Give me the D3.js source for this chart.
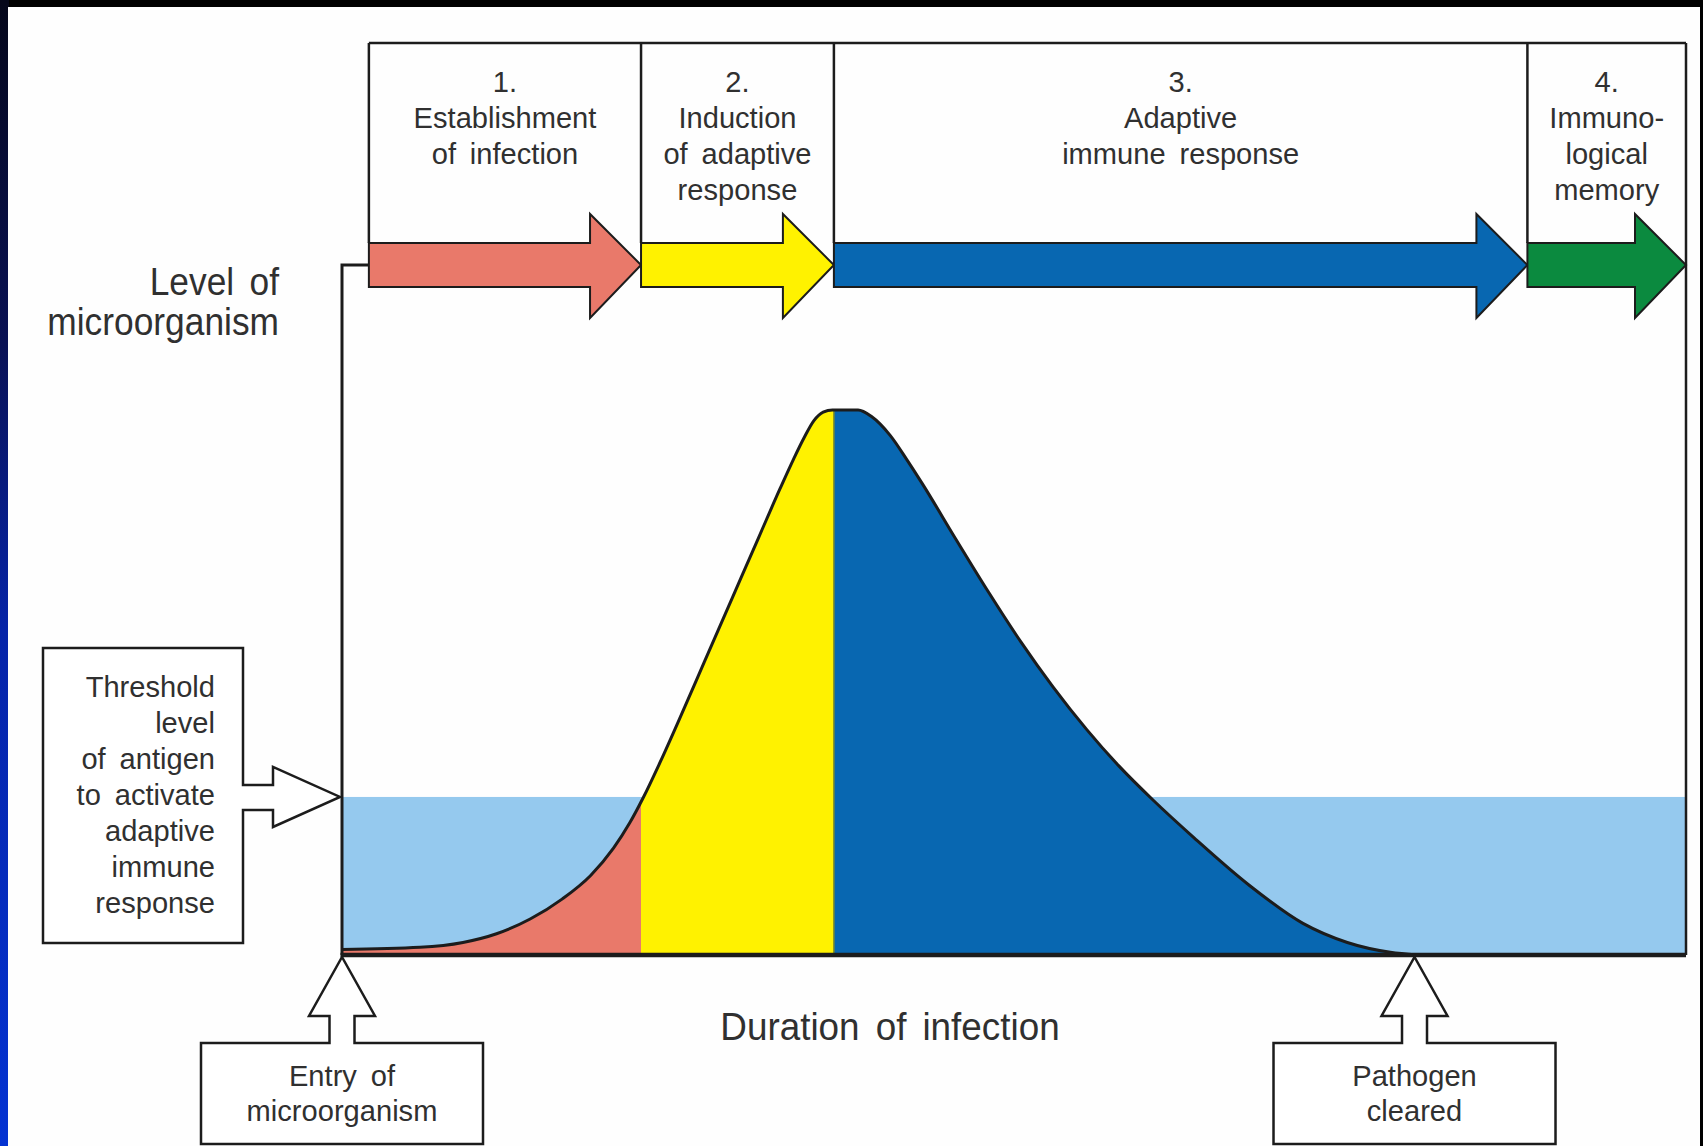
<!DOCTYPE html>
<html><head><meta charset="utf-8">
<script src="https://cdn.jsdelivr.net/npm/d3@7"></script>
<style>
html,body{margin:0;padding:0;background:#000;overflow:hidden}
text{font-family:"Liberation Sans",Arial,Helvetica,sans-serif;fill:#303030}
</style>
</head><body>
<svg id="c" width="1703" height="1146"></svg>
<script>
// ---------------- data ----------------
const phaseNumbers = ["1.", "2.", "3.", "4."];
const phaseLabels = [
  ["Establishment", "of infection"],
  ["Induction", "of adaptive", "response"],
  ["Adaptive", "immune response"],
  ["Immuno-", "logical", "memory"]
];
const phaseStart = [2.0, 22.25, 36.6, 88.2];
const phaseEnd   = [22.25, 36.6, 88.2, 100];

const curveTime  = [0, 5.8, 9.0, 11.5, 14.0, 16.4, 18.5, 20.2, 21.4, 22.4, 23.6, 25.0, 27.0, 29.0, 31.0, 32.6, 33.6, 34.4, 35.1, 35.8, 36.5, 38.4, 39.4, 40.8, 42.0, 43.2, 45.7, 48.1, 50.5, 52.9, 55.4, 57.8, 60.4, 63.4, 67.5, 71.5, 74.8, 78.0, 80.0];
const curveLevel = [1.0, 1.4, 2.3, 3.9, 6.6, 10.3, 14.6, 19.6, 24.2, 28.8, 35.0, 42.7, 54.0, 65.3, 76.6, 85.6, 91.0, 95.0, 98.0, 99.6, 100, 100, 98.8, 95.3, 91.0, 86.4, 76.2, 66.6, 57.5, 49.2, 41.4, 34.7, 28.3, 21.5, 12.8, 5.8, 2.3, 0.5, 0];

const thresholdLevel = 29;
const entryTime = 0;
const clearedTime = 79.8;

const yAxisLabel = ["Level of", "microorganism"];
const xAxisLabel = "Duration of infection";
const thresholdLabel = ["Threshold", "level", "of antigen", "to activate", "adaptive", "immune", "response"];
const entryLabel = ["Entry of", "microorganism"];
const clearedLabel = ["Pathogen", "cleared"];

// ---------------- styles ----------------
const phaseColors = ["#e9796a", "#fff200", "#0867b1", "#0b8a3f"];
const thresholdColor = "#95c9ee";
const ink = "#1c1c1c";

// ---------------- drawing ----------------
const svg = d3.select("#c");
const defs = svg.append("defs");
const grad = defs.append("linearGradient").attr("id", "leftStrip")
  .attr("x1", 0).attr("y1", 0).attr("x2", 0).attr("y2", 1);
[["0%", "#05071a"], ["30%", "#0a1255"], ["55%", "#0624a8"], ["100%", "#0433d2"]]
  .forEach(([o, c]) => grad.append("stop").attr("offset", o).attr("stop-color", c));

svg.append("rect").attr("width", 1703).attr("height", 1146).attr("fill", "#000");
svg.append("rect").attr("x", 0).attr("y", 0).attr("width", 9).attr("height", 1146).attr("fill", "url(#leftStrip)");
svg.append("rect").attr("x", 8).attr("y", 7).attr("width", 1692).attr("height", 1139).attr("fill", "#fefefe");

const x = d3.scaleLinear().domain([0, 100]).range([342, 1686]);
const y = d3.scaleLinear().domain([0, 100]).range([955, 410]);

const pts = curveTime.map((t, i) => [t, curveLevel[i]]);

// threshold band
svg.append("rect")
  .attr("x", x(0)).attr("y", y(thresholdLevel))
  .attr("width", x(100) - x(0)).attr("height", y(0) - y(thresholdLevel))
  .attr("fill", thresholdColor);

// phase fills under curve
const area = d3.area().x(d => x(d[0])).y0(y(0)).y1(d => y(d[1])).curve(d3.curveMonotoneX);
const line = d3.line().x(d => x(d[0])).y(d => y(d[1])).curve(d3.curveMonotoneX);

phaseStart.forEach((s, i) => {
  const x0 = i === 0 ? x(0) : x(s);
  defs.append("clipPath").attr("id", "clip" + i)
    .append("rect").attr("x", x0).attr("y", 0).attr("width", x(phaseEnd[i]) - x0).attr("height", 1146);
  svg.append("path").datum(pts).attr("d", area)
    .attr("fill", phaseColors[i]).attr("clip-path", `url(#clip${i})`);
});
svg.append("line").attr("x1", x(phaseEnd[1])).attr("x2", x(phaseEnd[1]))
  .attr("y1", y(100)).attr("y2", y(0)).attr("stroke", "#7a8a2a").attr("stroke-width", 1.5);

svg.append("path").datum(pts).attr("d", line)
  .attr("fill", "none").attr("stroke", ink).attr("stroke-width", 3);

// axes / frame
const bandTop = 243, bandBot = 287, headTop = 214, headBot = 318, headLen = 51, boxTop = 43;
const bandMid = (bandTop + bandBot) / 2;
svg.append("path").attr("d", `M${x(phaseStart[0])},${bandMid}H${x(0)}V${y(0)}`)
  .attr("fill", "none").attr("stroke", ink).attr("stroke-width", 3);
svg.append("path").attr("d", `M${x(0) - 1.5},${y(0)}H${x(100)}`)
  .attr("fill", "none").attr("stroke", ink).attr("stroke-width", 4.5);
svg.append("path").attr("d", `M${x(100)},${boxTop}V${y(0)}`)
  .attr("fill", "none").attr("stroke", ink).attr("stroke-width", 2.5);
svg.append("path").attr("d", `M${x(phaseStart[0])},${boxTop}H${x(100)}`)
  .attr("fill", "none").attr("stroke", ink).attr("stroke-width", 2.5);
phaseStart.forEach(s => {
  svg.append("path").attr("d", `M${x(s)},${boxTop}V${bandTop}`)
    .attr("fill", "none").attr("stroke", ink).attr("stroke-width", 2.5);
});

// phase arrows
phaseStart.forEach((s, i) => {
  const x0 = x(s), tip = x(phaseEnd[i]), hb = tip - headLen;
  svg.append("path")
    .attr("d", `M${x0},${bandTop}H${hb}V${headTop}L${tip},${bandMid}L${hb},${headBot}V${bandBot}H${x0}Z`)
    .attr("fill", phaseColors[i]).attr("stroke", ink).attr("stroke-width", 2).attr("stroke-linejoin", "miter");
});

// text helper
function multi(lines, tx, ty, lh, size, anchor, sx) {
  const g = svg.append("g").attr("transform", `translate(${tx},${ty}) scale(${sx || 1},1)`);
  g.selectAll("text").data(lines).join("text")
    .attr("x", 0).attr("y", (d, i) => i * lh)
    .attr("font-size", size).attr("text-anchor", anchor)
    .attr("word-spacing", 6)
    .text(d => d);
}

phaseStart.forEach((s, i) => {
  const cx = (x(s) + x(phaseEnd[i])) / 2;
  multi([phaseNumbers[i]].concat(phaseLabels[i]), cx, 92, 36, 30, "middle", 0.97);
});

multi(yAxisLabel, 279, 295, 40, 38, "end", 0.93);
multi([xAxisLabel], 890, 1040, 0, 38, "middle", 0.97);

// threshold callout
const ty = y(thresholdLevel);
svg.append("path")
  .attr("d", `M43,648H243V${ty - 12}H273V${ty - 30}L${x(0) - 2},${ty}L273,${ty + 30}V${ty + 13}H243V943H43Z`)
  .attr("fill", "#fff").attr("stroke", ink).attr("stroke-width", 2.5);
multi(thresholdLabel, 215, 697, 36, 30, "end", 0.97);

// entry / cleared callouts
function bottomCallout(cx, lines) {
  const top = 1043, tipY = y(0) + 2;
  svg.append("path")
    .attr("d", `M${cx - 141},1144V${top}H${cx - 12.5}V1016H${cx - 33}L${cx},${tipY}L${cx + 33},1016H${cx + 12.5}V${top}H${cx + 141}V1144Z`)
    .attr("fill", "#fff").attr("stroke", ink).attr("stroke-width", 2.5);
  multi(lines, cx, 1086, 35, 30, "middle", 0.97);
}
bottomCallout(x(entryTime), entryLabel);
bottomCallout(x(clearedTime), clearedLabel);
</script>
</body></html>
